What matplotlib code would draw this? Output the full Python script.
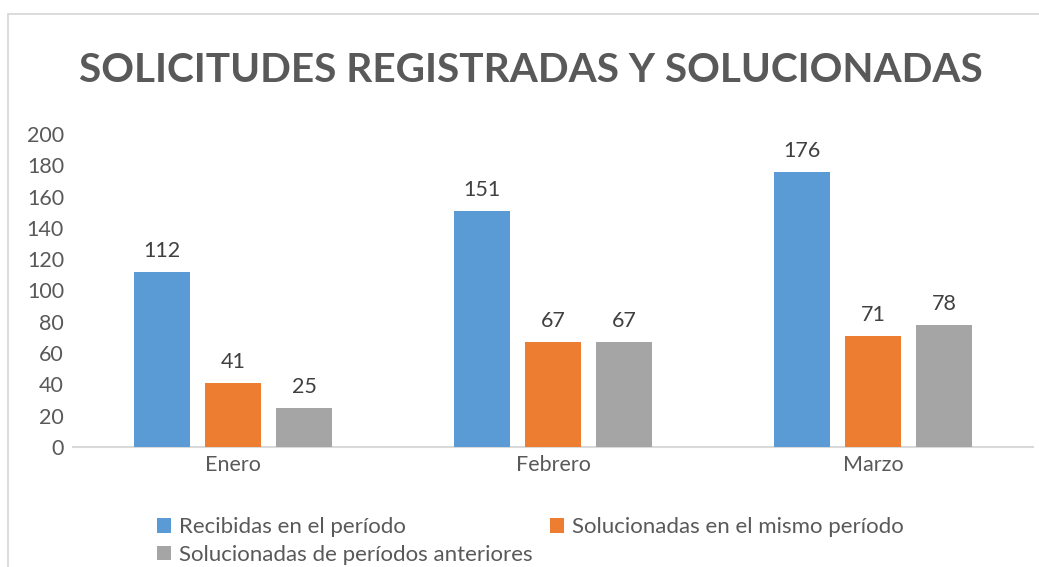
import matplotlib
matplotlib.use("Agg")
import matplotlib.pyplot as plt
import numpy as np
from matplotlib.patches import Rectangle

categories = ["Enero", "Febrero", "Marzo"]
series_names = ["Recibidas en el período",
                "Solucionadas en el mismo período",
                "Solucionadas de períodos anteriores"]
recibidas = [112, 151, 176]
sol_mismo = [41, 67, 71]
sol_anteriores = [25, 67, 78]
colors = ["#5B9BD5", "#ED7D31", "#A5A5A5"]
yticks = [0, 20, 40, 60, 80, 100, 120, 140, 160, 180, 200]

plt.rcParams['font.family'] = ['Lato', 'DejaVu Sans']

W, H = 1039, 567
fig = plt.figure(figsize=(W / 100, H / 100), dpi=100)
fig.patch.set_facecolor("white")

# chart border
fig.patches.append(Rectangle((8 / W, -0.1), 1.2, (H - 14) / H + 0.1,
                             transform=fig.transFigure, fill=False,
                             edgecolor="#D9D9D9", linewidth=1.3))

left, right = 73 / W, 1033 / W
bottom, top = (H - 447) / H, (H - 134) / H
ax = fig.add_axes([left, bottom, right - left, top - bottom])

x = np.arange(len(categories))
bw = 0.175
step = 0.222
data = [recibidas, sol_mismo, sol_anteriores]
handles = []
for i, (vals, col, name) in enumerate(zip(data, colors, series_names)):
    bars = ax.bar(x + (i - 1) * step, vals, width=bw, color=col, label=name, zorder=3)
    handles.append(bars)
    for xi, v in zip(x + (i - 1) * step, vals):
        ax.text(xi, v + 7, str(v), ha="center", va="bottom", fontsize=15.5, color="#404040")

ax.set_xlim(-0.5, 2.5)
ax.set_ylim(0, 200)
ax.set_yticks(yticks)
ax.set_xticks(x)
ax.set_xticklabels(categories)
for s in ["top", "right", "left"]:
    ax.spines[s].set_visible(False)
ax.spines["bottom"].set_color("#D9D9D9")
ax.spines["bottom"].set_linewidth(1.5)
ax.tick_params(axis="both", length=0, labelsize=15.5, colors="#595959")
ax.tick_params(axis="y", pad=6.5)
ax.tick_params(axis="x", pad=6)

fig.text(530.5 / W, (H - 70) / H, "SOLICITUDES REGISTRADAS Y SOLUCIONADAS",
         ha="center", va="center", fontsize=29.2, fontweight="bold", color="#595959")

order = [0, 2, 1]
leg = fig.legend([handles[i] for i in order], [series_names[i] for i in order],
                 ncol=2, frameon=False, fontsize=16, loc="center left",
                 bbox_to_anchor=(157 / W, (H - 541) / H),
                 borderpad=0, borderaxespad=0,
                 handlelength=0.63, handleheight=0.63, handletextpad=0.36,
                 columnspacing=0.77, labelspacing=0.33)
for t in leg.get_texts():
    t.set_color("#595959")

fig.savefig("out.png", dpi=100, facecolor="white")
